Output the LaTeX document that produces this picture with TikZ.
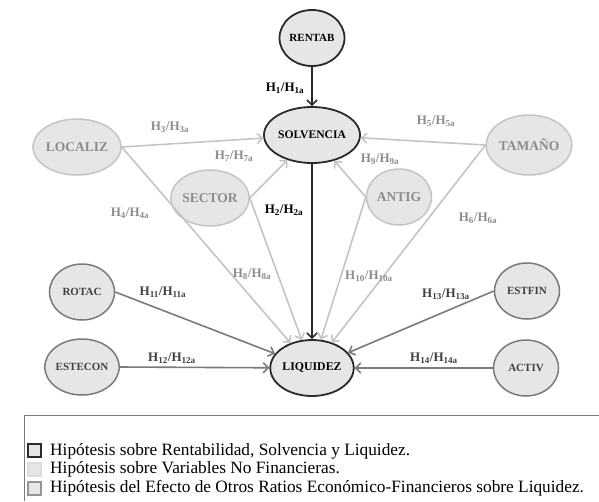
\documentclass[tikz,border=0pt]{standalone}
\usepackage{fontspec}
\setmainfont{Liberation Serif}
\usetikzlibrary{shapes.geometric,arrows.meta}

\definecolor{fondnoeud}{HTML}{E6E6E6}
\definecolor{grisfonce}{HTML}{2A2A2A}
\definecolor{grisclair}{HTML}{C4C4C4}
\definecolor{grismoyen}{HTML}{7A7A7A}
\definecolor{textclair}{HTML}{8C8C8C}
\definecolor{textmoyen}{HTML}{404040}

\tikzset{
  var/.style={ellipse, fill=fondnoeud, inner sep=0pt, minimum width=65pt, minimum height=56pt, font=\bfseries},
  varfin/.style={var, draw=grisfonce, line width=1.8pt, text=black, font=\bfseries\fontsize{11}{12}\selectfont},
  varnofin/.style={var, draw=grisclair, line width=1.5pt, text=textclair, font=\bfseries\fontsize{13.5}{15}\selectfont},
  varotro/.style={var, draw=grismoyen, line width=1.5pt, text=textmoyen, font=\bfseries\fontsize{11}{12}\selectfont},
  flecha/.style={-{Straight Barb[length=5pt,width=10pt,line width=1.6pt]}, line width=1.6pt},
  flechafin/.style={flecha, draw=grisfonce},
  flechanofin/.style={flecha, draw=grisclair},
  flechaotro/.style={flecha, draw=grismoyen},
  etiq/.style={font=\bfseries\fontsize{13}{15}\selectfont},
  etiqfin/.style={etiq, text=black},
  etiqnofin/.style={etiq, text=textclair},
  etiqotro/.style={etiq, text=textmoyen},
  carre/.style={fill=fondnoeud, line width=1.8pt},
  ley/.style={anchor=west, font=\fontsize{17.3}{19}\selectfont, inner sep=0pt}
}

\newcommand{\hyp}[2]{H\textsubscript{#1}/H\textsubscript{#2}}

\begin{document}
\begin{tikzpicture}[x=1pt, y=-1pt]
\useasboundingbox (0,0) rectangle (599,501);

% Variables financieras
\node[varfin] (rentab) at (312,38) {RENTAB};
\node[varfin, minimum width=76pt, font=\bfseries\fontsize{11.6}{12}\selectfont] (solvencia) at (312,135) {SOLVENCIA};
\node[varfin, minimum width=76pt, font=\bfseries\fontsize{11.8}{12}\selectfont] (liquidez) at (312,368) {LIQUIDEZ};

% Variables no financieras
\node[varnofin] (localiz) at (77,147) {LOCALIZ};
\node[varnofin] (sector) at (210,198) {SECTOR};
\node[varnofin] (antig) at (399,197) {ANTIG};
\node[varnofin, minimum height=60pt] (tamano) at (529,145) {TAMAÑO};

% Otros ratios
\node[varotro] (rotac) at (82,292) {ROTAC};
\node[varotro] (estecon) at (82,367) {ESTECON};
\node[varotro] (estfin) at (527,291) {ESTFIN};
\node[varotro] (activ) at (526,368) {ACTIV};

% Flechas
\draw[flechafin] (rentab) -- (solvencia);
\draw[flechafin] (solvencia) -- (liquidez);

\draw[flechanofin] (localiz.east) -- (solvencia);
\draw[flechanofin] (localiz.east) -- (liquidez);
\draw[flechanofin] (sector.east) -- (solvencia);
\draw[flechanofin] (sector.east) -- (liquidez);
\draw[flechanofin] (antig.west) -- (solvencia);
\draw[flechanofin] (antig.west) -- (liquidez);
\draw[flechanofin] (tamano.west) -- (solvencia);
\draw[flechanofin] (tamano.west) -- (liquidez);

\draw[flechaotro] (rotac.east) -- (liquidez);
\draw[flechaotro] (estecon.east) -- (liquidez);
\draw[flechaotro] (estfin.west) -- (liquidez);
\draw[flechaotro] (activ.west) -- (liquidez);

% Etiquetas
\node[etiqfin] (h1) at (285,88) {\hyp{1}{1a}};
\node[etiqfin] (h2) at (284,210) {\hyp{2}{2a}};
\node[etiqnofin] (h3) at (170,127) {\hyp{3}{3a}};
\node[etiqnofin] (h4) at (130,213) {\hyp{4}{4a}};
\node[etiqnofin] (h5) at (436,121) {\hyp{5}{5a}};
\node[etiqnofin] (h6) at (478,218) {\hyp{6}{6a}};
\node[etiqnofin] (h7) at (234,156) {\hyp{7}{7a}};
\node[etiqnofin] (h8) at (252,274) {\hyp{8}{8a}};
\node[etiqnofin] (h9) at (380,159) {\hyp{9}{9a}};
\node[etiqnofin] (h10) at (369,276) {\hyp{10}{10a}};
\node[etiqotro] (h11) at (163,292) {\hyp{11}{11a}};
\node[etiqotro] (h12) at (172,358) {\hyp{12}{12a}};
\node[etiqotro] (h13) at (446,294) {\hyp{13}{13a}};
\node[etiqotro] (h14) at (434,358) {\hyp{14}{14a}};

% Leyenda
\draw[grismoyen, line width=1pt] (24,501) -- (24,415) -- (599,415);
\draw[carre, draw=grisfonce] (28,444) rectangle (41,457);
\draw[carre, draw=grisclair!60] (28,463) rectangle (41,476);
\draw[carre, draw=grismoyen!80] (28,482) rectangle (41,495);
\node[ley] (ley1) at (50,451) {Hipótesis sobre Rentabilidad, Solvencia y Liquidez.};
\node[ley] (ley2) at (50,469.5) {Hipótesis sobre Variables No Financieras.};
\node[ley] (ley3) at (50,488) {Hipótesis del Efecto de Otros Ratios Económico-Financieros sobre Liquidez.};

\end{tikzpicture}
\end{document}
